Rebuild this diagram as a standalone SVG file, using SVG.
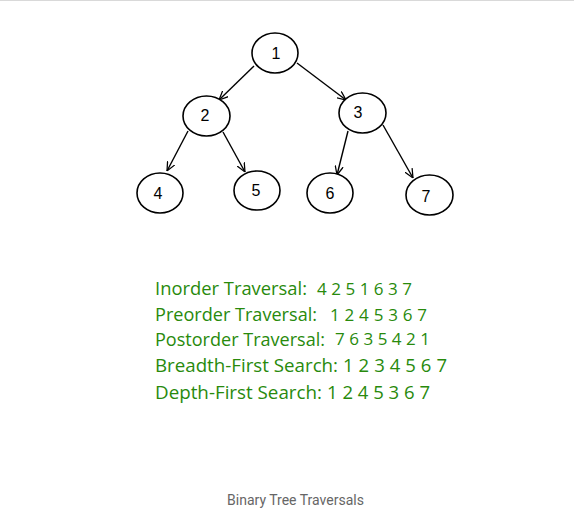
<svg xmlns="http://www.w3.org/2000/svg" width="574" height="530" viewBox="0 0 574 530">
<style>
.node ellipse{fill:#fff;stroke:#000;stroke-width:1.6}
.node text{font-family:"Liberation Sans",Arial,sans-serif;font-size:16px;fill:#000;text-anchor:middle}
.edge{stroke:#000;stroke-width:1.4;fill:none;marker-end:url(#arr)}
.t{font-family:"Open Sans","Liberation Sans",sans-serif;font-size:18.5px;fill:#288a0c}
.cap{font-family:Roboto,"Liberation Sans",sans-serif;font-size:14px;fill:#666;text-anchor:middle}
</style>
<defs>
<marker id="arr" viewBox="0 0 10 10" refX="10" refY="5" markerWidth="9" markerHeight="9" markerUnits="userSpaceOnUse" orient="auto">
<path d="M0,0.5 L10,5 L0,9.5" fill="none" stroke="#000" stroke-width="1.4"/>
</marker>
</defs>
<rect width="574" height="530" fill="#fff"/>
<line x1="0" y1="0.5" x2="574" y2="0.5" stroke="#d9d9d9" stroke-width="1"/>
<g id="connectors">
<line class="edge" x1="254" y1="66" x2="219" y2="100"/>
<line class="edge" x1="297" y1="63" x2="346" y2="100"/>
<line class="edge" x1="188" y1="131" x2="167" y2="171"/>
<line class="edge" x1="223" y1="132" x2="245" y2="172"/>
<line class="edge" x1="348" y1="131" x2="337" y2="175"/>
<line class="edge" x1="383" y1="125" x2="413" y2="178"/>
</g>
<g id="n1" class="node"><ellipse cx="275" cy="53" rx="23" ry="20"/><text x="276" y="59">1</text></g>
<g id="n2" class="node"><ellipse cx="206.5" cy="116" rx="23.5" ry="20"/><text x="205" y="121">2</text></g>
<g id="n3" class="node"><ellipse cx="362.5" cy="113" rx="23.5" ry="20"/><text x="358" y="118">3</text></g>
<g id="n4" class="node"><ellipse cx="160" cy="193" rx="23" ry="20"/><text x="158" y="199">4</text></g>
<g id="n5" class="node"><ellipse cx="257" cy="190.5" rx="23" ry="19.5"/><text x="256" y="196">5</text></g>
<g id="n6" class="node"><ellipse cx="330" cy="193" rx="23" ry="20"/><text x="330" y="199">6</text></g>
<g id="n7" class="node"><ellipse cx="429.5" cy="195" rx="23.5" ry="20"/><text x="426" y="202">7</text></g>
<g id="traversals">
<text class="t" x="155" y="295" textLength="152" lengthAdjust="spacingAndGlyphs">Inorder Traversal:</text>
<text class="t" x="317" y="295" textLength="95" lengthAdjust="spacing" style="font-size:17px">4 2 5 1 6 3 7</text>
<text class="t" x="155" y="320.5" textLength="162" lengthAdjust="spacingAndGlyphs">Preorder Traversal:</text>
<text class="t" x="330" y="320.5" textLength="97" lengthAdjust="spacing" style="font-size:17px">1 2 4 5 3 6 7</text>
<text class="t" x="155" y="346" textLength="170" lengthAdjust="spacingAndGlyphs">Postorder Traversal:</text>
<text class="t" x="335" y="345" textLength="95" lengthAdjust="spacing" style="font-size:17px">7 6 3 5 4 2 1</text>
<text class="t" x="155" y="372" textLength="183" lengthAdjust="spacingAndGlyphs">Breadth-First Search:</text>
<text class="t" x="343" y="372" textLength="104" lengthAdjust="spacing">1 2 3 4 5 6 7</text>
<text class="t" x="155" y="398.5" textLength="167" lengthAdjust="spacingAndGlyphs">Depth-First Search:</text>
<text class="t" x="327" y="398.5" textLength="103" lengthAdjust="spacing">1 2 4 5 3 6 7</text>
</g>
<text class="cap" x="295.5" y="505">Binary Tree Traversals</text>
</svg>
